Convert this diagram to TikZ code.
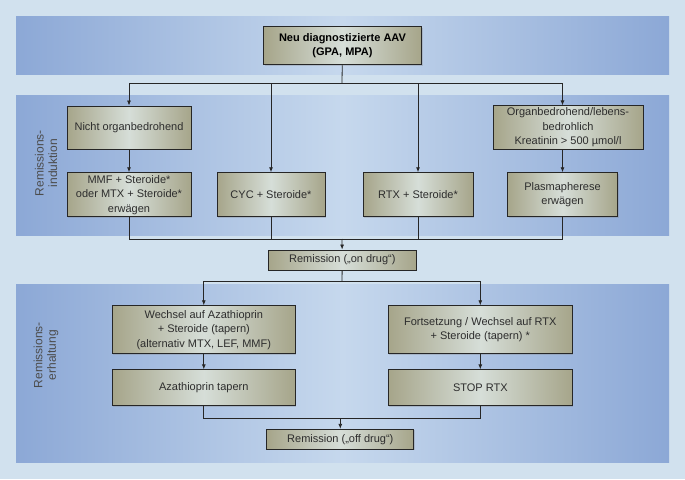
\documentclass[tikz,border=0pt]{standalone}
\usepackage{fontspec}
\setmainfont{Liberation Sans}
\usetikzlibrary{arrows.meta,positioning,shadows}
\definecolor{bgblue}{RGB}{209,225,238}
\definecolor{bandblue}{RGB}{140,168,214}
\definecolor{bandlight}{RGB}{198,216,237}
\definecolor{boxolive}{RGB}{166,165,138}
\definecolor{boxlight}{RGB}{214,222,216}
\definecolor{txtgray}{RGB}{45,45,45}

\begin{document}
\begin{tikzpicture}[x=1pt,y=-1pt,
  box/.style={draw=black!85, line width=0.9pt, left color=boxolive, right color=boxolive,
    middle color=boxlight, align=center, text=txtgray, inner sep=2pt,
    font=\fontsize{11}{14.5}\selectfont,
    drop shadow={opacity=0.3, shadow xshift=1pt, shadow yshift=-1pt}},
  phase/.style={rotate=90, align=center, text=black!70, font=\fontsize{12}{13.5}\selectfont},
  conn/.style={draw=black!85, line width=0.8pt},
  arr/.style={conn, -{Latex[length=5pt,width=4pt]}}]

  %% Background and bands
  \fill[bgblue] (0,0) rectangle (685,479);
  \shade[left color=bandblue, right color=bandblue, middle color=bandlight]
    (16,16) rectangle (669,74);
  \shade[left color=bandblue, right color=bandblue, middle color=bandlight]
    (16,95) rectangle (669,235);
  \shade[left color=bandblue, right color=bandblue, middle color=bandlight]
    (16,284) rectangle (669,462);

  \node[phase] (induk) at (46,163) {Remissions-\\induktion};
  \node[phase] (erhalt) at (46,355) {Remissions-\\erhaltung};

  %% Diagnosis
  \node[box, minimum width=158pt, minimum height=38pt,
    font=\fontsize{11}{13.5}\selectfont\bfseries, text=black] (diag) at (342.5,45.8)
    {Neu diagnostizierte AAV\\(GPA, MPA)};

  %% Induction
  \node[box, minimum width=124pt, minimum height=43pt] (nicht) at (129,127.5)
    {Nicht organbedrohend};
  \node[box, minimum width=124pt, minimum height=44pt] (mmf) at (129,194.7)
    {MMF + Steroide*\\oder MTX + Steroide*\\erwägen};
  \node[box, minimum width=108pt, minimum height=44pt] (cyc) at (271,194.7)
    {CYC + Steroide*};
  \node[box, minimum width=110pt, minimum height=44pt] (rtx) at (418,194.7)
    {RTX + Steroide*};
  \node[box, minimum width=150pt, minimum height=43pt] (organ) at (568,127.5)
    {Organbedrohend/lebens-\\bedrohlich\\Kreatinin > 500 µmol/l};
  \node[box, minimum width=110pt, minimum height=44pt] (plasma) at (562.5,194.7)
    {Plasmapherese\\erwägen};

  \node[box, minimum width=148pt, minimum height=20pt, inner sep=1pt] (onrem) at (342.3,260)
    {Remission („on drug“)};

  %% Maintenance
  \node[box, minimum width=183pt, minimum height=48pt] (wechsel) at (203.8,329.7)
    {Wechsel auf Azathioprin\\+ Steroide (tapern)\\(alternativ MTX, LEF, MMF)};
  \node[box, minimum width=183pt, minimum height=36pt] (aza) at (203.8,387.8)
    {Azathioprin tapern};
  \node[box, minimum width=184pt, minimum height=48pt] (fort) at (480.3,329.7)
    {Fortsetzung / Wechsel auf RTX\\+ Steroide (tapern) *};
  \node[box, minimum width=184pt, minimum height=36pt] (stop) at (480.3,387.8)
    {STOP RTX};

  \node[box, minimum width=147pt, minimum height=20pt, inner sep=1pt] (offrem) at (340.3,439.3)
    {Remission („off drug“)};

  %% Connectors
  \coordinate (split1) at (342,83);
  \coordinate (merge1) at (342,239);
  \coordinate (split2) at (342,281.3);
  \coordinate (merge2) at (340.3,418.7);

  \draw[conn] (diag) -- (split1);
  \draw[arr] (split1) -| (nicht);
  \draw[arr] (split1) -| (cyc);
  \draw[arr] (split1) -| (rtx);
  \draw[arr] (split1) -| (plasma |- organ.north);
  \draw[arr] (nicht) -- (mmf);
  \draw[arr] (plasma |- organ.south) -- (plasma);

  \draw[conn] (mmf) |- (merge1);
  \draw[conn] (cyc) |- (merge1);
  \draw[conn] (rtx) |- (merge1);
  \draw[conn] (plasma) |- (merge1);
  \draw[arr] (merge1) -- (onrem);

  \draw[conn] (onrem) -- (split2);
  \draw[arr] (split2) -| (wechsel);
  \draw[arr] (split2) -| (fort);
  \draw[arr] (wechsel) -- (aza);
  \draw[arr] (fort) -- (stop);

  \draw[conn] (aza) |- (merge2);
  \draw[conn] (stop) |- (merge2);
  \draw[arr] (merge2) -- (offrem);
\end{tikzpicture}
\end{document}
